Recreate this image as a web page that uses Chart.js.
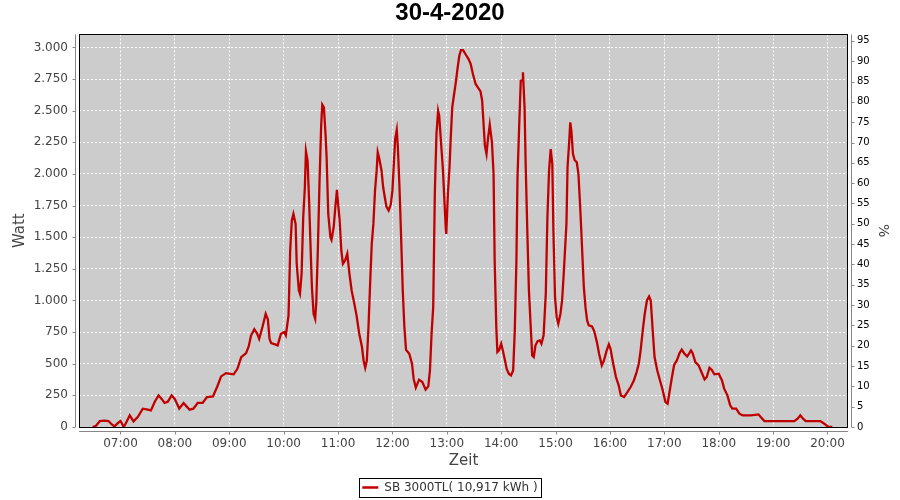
<!DOCTYPE html>
<html>
<head>
<meta charset="utf-8">
<script src="https://cdn.jsdelivr.net/npm/chart.js@4/dist/chart.umd.min.js"></script>
<style>
  html, body { margin: 0; padding: 0; background: #ffffff; }
  #wrap { width: 900px; height: 500px; }
</style>
</head>
<body>
<div id="wrap"><canvas id="chartjs-pv" width="900" height="500"></canvas></div>
<script>
// **********************************************
// Data (30-4-2020)
// time of day in hours
const timeHours = [
  6.49, 6.55, 6.62, 6.70, 6.78, 6.84, 6.89, 6.95, 7.00, 7.06, 7.11, 7.17, 7.24, 7.32, 7.41, 7.48,
  7.56, 7.63, 7.70, 7.76, 7.81, 7.87, 7.94, 8.00, 8.08, 8.16, 8.21, 8.27, 8.34, 8.42, 8.51, 8.59,
  8.70, 8.78, 8.85, 8.94, 9.02, 9.08, 9.15, 9.22, 9.31, 9.36, 9.40, 9.46, 9.51, 9.55, 9.61, 9.67,
  9.71, 9.74, 9.77, 9.83, 9.89, 9.95, 10.01, 10.04, 10.09, 10.12, 10.15, 10.18, 10.22, 10.24, 10.28, 10.30,
  10.33, 10.36, 10.39, 10.41, 10.44, 10.47, 10.50, 10.52, 10.55, 10.58, 10.60, 10.63, 10.66, 10.69, 10.71, 10.74,
  10.77, 10.79, 10.82, 10.86, 10.88, 10.92, 10.95, 10.98, 11.00, 11.03, 11.06, 11.09, 11.13, 11.17, 11.21, 11.25,
  11.30, 11.34, 11.39, 11.44, 11.47, 11.50, 11.53, 11.56, 11.59, 11.62, 11.65, 11.68, 11.71, 11.73, 11.76, 11.80,
  11.83, 11.86, 11.89, 11.93, 11.97, 12.00, 12.02, 12.05, 12.08, 12.10, 12.13, 12.16, 12.19, 12.22, 12.25, 12.31,
  12.36, 12.39, 12.43, 12.49, 12.55, 12.61, 12.66, 12.69, 12.72, 12.75, 12.78, 12.81, 12.84, 12.86, 12.90, 12.93,
  12.95, 12.98, 12.99, 13.02, 13.05, 13.07, 13.10, 13.13, 13.17, 13.20, 13.23, 13.26, 13.30, 13.35, 13.40, 13.44,
  13.48, 13.53, 13.58, 13.62, 13.65, 13.68, 13.70, 13.73, 13.76, 13.79, 13.83, 13.86, 13.88, 13.91, 13.93, 13.96,
  14.00, 14.03, 14.07, 14.10, 14.14, 14.18, 14.22, 14.25, 14.28, 14.30, 14.33, 14.36, 14.39, 14.40, 14.43, 14.45,
  14.48, 14.51, 14.54, 14.57, 14.60, 14.63, 14.67, 14.71, 14.74, 14.78, 14.82, 14.85, 14.88, 14.91, 14.94, 14.96,
  14.99, 15.02, 15.05, 15.09, 15.12, 15.15, 15.17, 15.20, 15.22, 15.25, 15.27, 15.29, 15.32, 15.35, 15.39, 15.42,
  15.45, 15.47, 15.50, 15.52, 15.55, 15.58, 15.61, 15.67, 15.71, 15.76, 15.80, 15.85, 15.89, 15.94, 15.98, 16.01,
  16.06, 16.11, 16.16, 16.20, 16.26, 16.32, 16.38, 16.44, 16.49, 16.53, 16.56, 16.61, 16.64, 16.68, 16.72, 16.75,
  16.79, 16.82, 16.87, 16.92, 16.97, 17.02, 17.06, 17.09, 17.14, 17.18, 17.23, 17.28, 17.32, 17.37, 17.42, 17.46,
  17.49, 17.52, 17.57, 17.63, 17.67, 17.74, 17.78, 17.83, 17.87, 17.92, 18.00, 18.06, 18.10, 18.16, 18.21, 18.25,
  18.32, 18.38, 18.44, 18.59, 18.73, 18.78, 18.84, 19.39, 19.45, 19.50, 19.55, 19.60, 19.87, 19.92, 20.02, 20.09
];

// output power in Watt
const powerWatt = [
  0, 10, 47, 50, 47, 20, 5, 30, 47, 0, 40, 92, 45, 80, 145, 140,
  131, 200, 250, 220, 190, 200, 250, 220, 145, 190, 165, 137, 145, 190, 190, 237,
  242, 320, 400, 426, 420, 416, 460, 552, 584, 640, 723, 773, 740, 697, 790, 894,
  850, 697, 663, 655, 645, 737, 750, 724, 882, 1395, 1632, 1684, 1605, 1290, 1079, 1053,
  1211, 1658, 1895, 2179, 2105, 1763, 1355, 1105, 895, 855, 987, 1421, 1947, 2382, 2548, 2527,
  2316, 2132, 1684, 1500, 1479, 1579, 1737, 1874, 1769, 1632, 1395, 1290, 1316, 1369, 1211, 1079,
  974, 882, 737, 632, 526, 468, 526, 790, 1132, 1447, 1605, 1868, 2026, 2171, 2118, 2026,
  1895, 1816, 1742, 1711, 1758, 1868, 2026, 2276, 2348, 2211, 1895, 1500, 1079, 790, 610, 579,
  500, 382, 311, 374, 355, 295, 321, 447, 737, 947, 1855, 2316, 2500, 2461, 2211, 2026,
  1842, 1579, 1526, 1842, 2053, 2263, 2526, 2618, 2737, 2842, 2934, 2979, 2979, 2942, 2908, 2868,
  2790, 2711, 2679, 2653, 2579, 2368, 2224, 2158, 2290, 2390, 2250, 2000, 1316, 790, 592, 605,
  658, 605, 526, 461, 421, 408, 447, 763, 1316, 1974, 2368, 2737, 2737, 2803, 2526, 2079,
  1553, 1079, 816, 566, 553, 645, 679, 684, 658, 724, 1053, 1658, 2026, 2197, 2079, 1553,
  1026, 868, 816, 895, 1000, 1211, 1369, 1605, 2053, 2250, 2408, 2342, 2158, 2111, 2092, 2000,
  1763, 1579, 1290, 1105, 947, 842, 803, 795, 758, 671, 579, 487, 526, 605, 653, 618,
  500, 395, 329, 250, 237, 276, 316, 368, 434, 500, 592, 790, 895, 1000, 1032, 1000,
  737, 553, 447, 368, 290, 197, 184, 263, 395, 490, 526, 584, 611, 579, 558, 584,
  605, 584, 513, 487, 447, 376, 395, 468, 453, 416, 421, 368, 303, 250, 171, 145,
  145, 105, 92, 92, 100, 75, 47, 47, 66, 92, 66, 47, 47, 32, 0, 0
];

// hour ticks on the time axis
const hourTicks = [7, 8, 9, 10, 11, 12, 13, 14, 15, 16, 17, 18, 19, 20];

const chartTitle = '30-4-2020';
const seriesLabel = 'SB 3000TL( 10,917 kWh )';

// **********************************************
// Chart setup
Chart.defaults.font.family = "'DejaVu Sans', sans-serif";
Chart.defaults.color = '#444444';

const points = timeHours.map((t, i) => ({ x: t, y: powerWatt[i] }));

// gray plot background, black frame, offset axis lines, legend box
const jfreeLook = {
  id: 'jfreeLook',
  beforeDraw(chart) {
    const {ctx, chartArea: a} = chart;
    ctx.save();
    ctx.fillStyle = '#ffffff';
    ctx.fillRect(0, 0, chart.width, chart.height);
    ctx.fillStyle = '#cccccc';
    ctx.fillRect(a.left, a.top, a.right - a.left, a.bottom - a.top);
    ctx.restore();
  },
  beforeDatasetsDraw(chart) {
    const {ctx, chartArea: a, scales} = chart;
    ctx.save();
    // frame
    ctx.strokeStyle = '#000000';
    ctx.lineWidth = 1;
    ctx.strokeRect(Math.round(a.left) + 0.5, Math.round(a.top) + 0.5,
      Math.round(a.right - a.left) - 1, Math.round(a.bottom - a.top));
    // axis lines with tick marks
    ctx.strokeStyle = '#888888';
    ctx.beginPath();
    const lx = Math.round(a.left) - 3.5;
    ctx.moveTo(lx, a.top); ctx.lineTo(lx, a.bottom);
    scales.y.ticks.forEach(t => {
      const py = Math.round(scales.y.getPixelForValue(t.value)) + 0.5;
      ctx.moveTo(lx - 3, py); ctx.lineTo(lx, py);
    });
    const rx = Math.round(a.right) + 3.5;
    ctx.moveTo(rx, a.top); ctx.lineTo(rx, a.bottom);
    scales.y1.ticks.forEach(t => {
      const py = Math.round(scales.y1.getPixelForValue(t.value)) + 0.5;
      ctx.moveTo(rx, py); ctx.lineTo(rx + 3, py);
    });
    const by = Math.round(a.bottom) + 4.5;
    ctx.moveTo(a.left, by); ctx.lineTo(a.right, by);
    scales.x.ticks.forEach(t => {
      const px = Math.round(scales.x.getPixelForValue(t.value)) + 0.5;
      ctx.moveTo(px, by); ctx.lineTo(px, by + 3);
    });
    ctx.stroke();
    ctx.restore();
  },
  afterDraw(chart) {
    const box = chart.legend && chart.legend.legendHitBoxes && chart.legend.legendHitBoxes[0];
    if (!box) return;
    const {ctx} = chart;
    ctx.save();
    ctx.strokeStyle = '#000000';
    ctx.lineWidth = 1;
    ctx.strokeRect(Math.round(box.left) - 2.5, Math.round(box.top) - 3.5,
      Math.round(box.width) + 7, Math.round(box.height) + 7);
    ctx.restore();
  }
};

const ctx = document.getElementById('chartjs-pv').getContext('2d');

let pvChart = new Chart(ctx, {
  type: 'line',
  data: {
    datasets: [{
      label: seriesLabel,
      data: points,
      borderColor: '#c00000',
      backgroundColor: '#c00000',
      borderWidth: 2.3,
      pointRadius: 0,
      pointStyle: 'line',
      tension: 0,
      yAxisID: 'y'
    }]
  },
  options: {
    responsive: false,
    animation: false,
    devicePixelRatio: 1,
    layout: { padding: { top: 0, left: 0, right: 0, bottom: -3.5 } },
    plugins: {
      title: {
        display: true,
        text: chartTitle,
        color: '#000000',
        font: { family: "'Liberation Sans', sans-serif", size: 24, weight: 'bold', lineHeight: 1.1 },
        padding: { top: 0, bottom: 8 }
      },
      legend: {
        position: 'bottom',
        labels: {
          usePointStyle: true,
          pointStyleWidth: 16,
          boxHeight: 12,
          padding: 4.5,
          color: '#333333',
          font: { size: 12 }
        }
      },
      tooltip: { enabled: false }
    },
    scales: {
      x: {
        type: 'linear',
        min: 6.237,
        max: 20.377,
        afterBuildTicks: (scale) => { scale.ticks = hourTicks.map(v => ({ value: v })); },
        afterFit: (scale) => { scale.height = 50; },
        ticks: {
          padding: 10,
          color: '#444444',
          font: { size: 12 },
          maxRotation: 0,
          callback: (v) => String(v).padStart(2, '0') + ':00'
        },
        grid: { color: '#ffffff', lineWidth: 1, drawTicks: false },
        border: { display: false, dash: [2, 2] },
        title: {
          display: true,
          text: 'Zeit',
          color: '#444444',
          font: { size: 15 },
          padding: { top: 0, bottom: 7 }
        }
      },
      y: {
        position: 'left',
        min: 0,
        max: 3103,
        afterFit: (scale) => { scale.width = 79; },
        ticks: {
          stepSize: 250,
          includeBounds: false,
          padding: 11,
          color: '#444444',
          font: { size: 12 },
          callback: (v) => v.toLocaleString('de-DE')
        },
        grid: { color: '#ffffff', lineWidth: 1, drawTicks: false },
        border: { display: false, dash: [2, 2] },
        title: {
          display: true,
          text: 'Watt',
          color: '#444444',
          font: { size: 15 },
          padding: { top: 11, bottom: 0 }
        }
      },
      y1: {
        position: 'right',
        min: 0,
        max: 96.6,
        afterFit: (scale) => { scale.width = 52; },
        ticks: {
          stepSize: 5,
          includeBounds: false,
          padding: 9,
          color: '#000000',
          font: { size: 10 }
        },
        grid: { drawOnChartArea: false, drawTicks: false },
        border: { display: false },
        title: {
          display: true,
          text: '%',
          color: '#444444',
          font: { size: 14 },
          padding: { top: 9, bottom: 0 }
        }
      }
    }
  },
  plugins: [jfreeLook]
});
</script>
</body>
</html>
